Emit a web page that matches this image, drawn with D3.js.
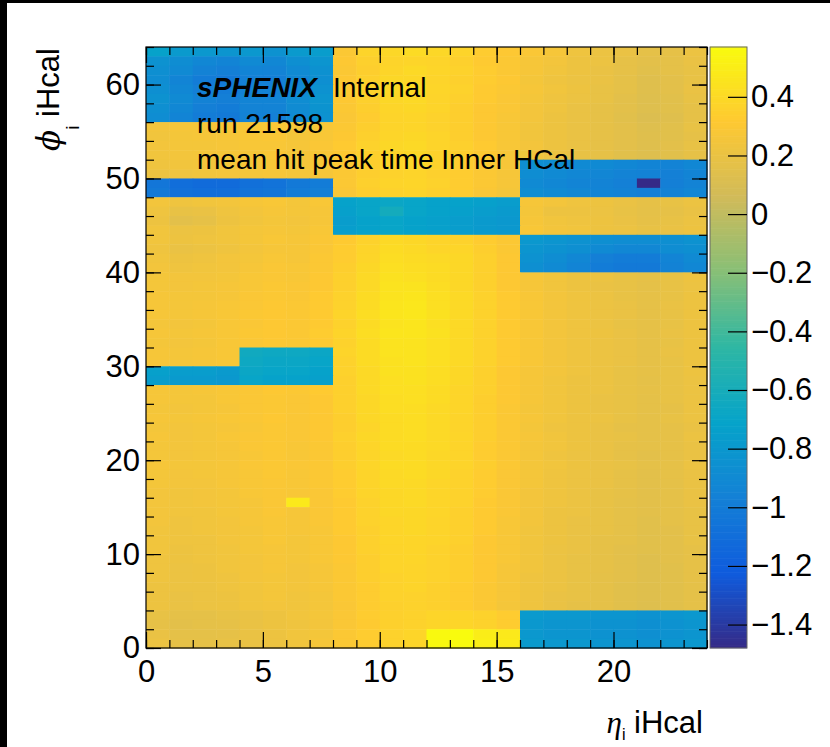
<!DOCTYPE html>
<html><head><meta charset="utf-8">
<script src="https://cdn.jsdelivr.net/npm/d3@7"></script>
<style>
html,body{margin:0;padding:0;background:#fff;}
svg{display:block;}
text{font-family:"Liberation Sans",Arial,Helvetica,sans-serif;}
</style>
</head><body>
<svg id="c" width="830" height="747"></svg>
<script>
// ---- data ----
const etaCount = 24;            // eta bins 0..23
const phiCount = 64;            // phi bins 0..63
const xTickMajor = [0, 5, 10, 15, 20];
const yTickMajor = [0, 10, 20, 30, 40, 50, 60];
const zTickValues = [0.4, 0.2, 0, -0.2, -0.4, -0.6, -0.8, -1, -1.2, -1.4];
const infoLines = ["run 21598", "mean hit peak time Inner HCal"];

// rows listed from phi = 63 (top) down to phi = 0 (bottom); 24 eta values each
const phiRowsTop = [
[-0.72,-0.78,-0.80,-0.82,-0.80,-0.84,-0.78,-0.76,0.30,0.37,0.39,0.41,0.39,0.37,0.33,0.31,0.29,0.27,0.23,0.21,0.20,0.17,0.18,0.21],
[-0.84,-0.88,-0.92,-0.94,-0.90,-0.92,-0.86,-0.82,0.31,0.35,0.37,0.38,0.37,0.35,0.32,0.30,0.27,0.25,0.22,0.21,0.18,0.16,0.17,0.20],
[-0.86,-0.90,-0.96,-0.98,-0.94,-0.95,-0.90,-0.85,0.30,0.34,0.38,0.40,0.38,0.36,0.33,0.30,0.27,0.24,0.22,0.20,0.18,0.15,0.17,0.19],
[-0.88,-0.94,-1.00,-1.02,-0.97,-0.98,-0.92,-0.86,0.31,0.35,0.39,0.39,0.37,0.35,0.33,0.31,0.26,0.23,0.21,0.20,0.17,0.14,0.16,0.19],
[-0.86,-0.92,-0.98,-1.00,-0.96,-0.96,-0.90,-0.84,0.32,0.36,0.40,0.41,0.38,0.36,0.32,0.30,0.27,0.24,0.22,0.19,0.17,0.14,0.16,0.20],
[-0.84,-0.90,-0.96,-0.98,-0.94,-0.94,-0.88,-0.82,0.31,0.35,0.39,0.40,0.37,0.35,0.32,0.29,0.26,0.23,0.21,0.19,0.16,0.13,0.15,0.19],
[-0.86,-0.92,-0.98,-1.00,-0.95,-0.95,-0.89,-0.83,0.30,0.34,0.38,0.39,0.37,0.34,0.31,0.29,0.25,0.23,0.20,0.18,0.16,0.13,0.15,0.18],
[-0.88,-0.94,-1.00,-1.02,-0.96,-0.97,-0.90,-0.84,0.29,0.33,0.37,0.38,0.36,0.34,0.31,0.28,0.25,0.22,0.20,0.18,0.15,0.12,0.14,0.18],
[0.25,0.27,0.27,0.28,0.28,0.29,0.27,0.28,0.30,0.34,0.37,0.38,0.36,0.34,0.31,0.28,0.24,0.22,0.20,0.18,0.16,0.13,0.15,0.19],
[0.24,0.26,0.27,0.27,0.28,0.29,0.26,0.28,0.31,0.35,0.38,0.39,0.37,0.34,0.31,0.28,0.24,0.22,0.20,0.18,0.16,0.14,0.15,0.18],
[0.25,0.26,0.26,0.27,0.28,0.28,0.27,0.29,0.32,0.36,0.39,0.40,0.37,0.35,0.32,0.28,0.25,0.22,0.20,0.18,0.16,0.14,0.16,0.19],
[0.24,0.25,0.26,0.27,0.27,0.29,0.27,0.28,0.31,0.35,0.38,0.39,0.36,0.34,0.31,0.27,0.24,0.21,0.19,0.18,0.15,0.13,0.15,0.18],
[0.23,0.24,0.25,0.26,0.27,0.28,0.26,0.28,0.30,0.34,0.37,0.38,0.36,0.33,0.30,0.27,-0.86,-0.88,-0.90,-0.90,-0.92,-0.94,-0.95,-0.92],
[0.22,0.23,0.24,0.25,0.26,0.27,0.26,0.27,0.30,0.34,0.36,0.37,0.35,0.33,0.30,0.27,-0.88,-0.90,-0.92,-0.93,-0.95,-0.96,-0.97,-0.94],
[-1.04,-1.10,-1.12,-1.12,-1.08,-1.06,-1.02,-1.00,0.30,0.35,0.37,0.38,0.36,0.33,0.30,0.27,-0.90,-0.92,-0.94,-0.95,-0.97,-1.48,-0.98,-0.95],
[-1.02,-1.08,-1.10,-1.10,-1.06,-1.05,-1.00,-0.98,0.29,0.34,0.36,0.37,0.35,0.33,0.29,0.26,-0.88,-0.90,-0.92,-0.94,-0.96,-0.98,-0.96,-0.93],
[0.25,0.23,0.24,0.25,0.27,0.28,0.26,0.28,-0.72,-0.70,-0.68,-0.70,-0.72,-0.72,-0.74,-0.76,0.27,0.25,0.23,0.22,0.20,0.18,0.19,0.21],
[0.23,0.19,0.20,0.23,0.25,0.27,0.26,0.27,-0.74,-0.70,-0.62,-0.70,-0.72,-0.74,-0.76,-0.78,0.26,0.22,0.22,0.21,0.19,0.17,0.18,0.20],
[0.22,0.16,0.18,0.22,0.24,0.26,0.25,0.27,-0.76,-0.72,-0.70,-0.72,-0.74,-0.76,-0.78,-0.80,0.27,0.24,0.23,0.22,0.20,0.18,0.19,0.21],
[0.24,0.21,0.22,0.24,0.26,0.27,0.26,0.28,-0.75,-0.72,-0.70,-0.72,-0.74,-0.76,-0.78,-0.80,0.28,0.25,0.24,0.22,0.21,0.19,0.20,0.22],
[0.24,0.22,0.23,0.24,0.26,0.28,0.27,0.29,0.32,0.36,0.40,0.39,0.37,0.36,0.33,0.30,-0.80,-0.82,-0.84,-0.86,-0.88,-0.88,-0.86,-0.84],
[0.23,0.20,0.21,0.23,0.25,0.27,0.27,0.29,0.33,0.37,0.41,0.40,0.38,0.38,0.34,0.30,-0.82,-0.84,-0.86,-0.90,-0.92,-0.92,-0.88,-0.86],
[0.24,0.22,0.23,0.25,0.26,0.28,0.27,0.30,0.33,0.38,0.42,0.41,0.40,0.39,0.35,0.31,-0.84,-0.88,-0.92,-0.98,-1.00,-1.00,-0.94,-0.90],
[0.25,0.23,0.24,0.25,0.27,0.29,0.28,0.30,0.34,0.39,0.43,0.42,0.41,0.39,0.35,0.31,-0.86,-0.90,-0.94,-1.00,-1.02,-1.02,-0.96,-0.92],
[0.26,0.25,0.25,0.26,0.28,0.29,0.28,0.31,0.35,0.40,0.44,0.43,0.41,0.39,0.35,0.31,0.27,0.24,0.22,0.21,0.19,0.18,0.19,0.22],
[0.26,0.25,0.26,0.27,0.28,0.30,0.29,0.31,0.35,0.40,0.45,0.45,0.42,0.39,0.35,0.31,0.27,0.24,0.22,0.20,0.19,0.17,0.19,0.21],
[0.27,0.26,0.26,0.27,0.29,0.30,0.29,0.32,0.36,0.41,0.45,0.46,0.43,0.40,0.36,0.32,0.28,0.25,0.23,0.21,0.19,0.18,0.19,0.22],
[0.27,0.26,0.27,0.28,0.29,0.31,0.30,0.32,0.36,0.41,0.46,0.47,0.43,0.40,0.36,0.32,0.28,0.25,0.23,0.21,0.20,0.18,0.20,0.22],
[0.27,0.26,0.27,0.28,0.30,0.31,0.30,0.32,0.37,0.42,0.46,0.47,0.44,0.40,0.36,0.32,0.28,0.25,0.23,0.21,0.20,0.18,0.19,0.22],
[0.26,0.25,0.26,0.28,0.29,0.31,0.30,0.32,0.36,0.41,0.45,0.46,0.43,0.40,0.36,0.32,0.28,0.25,0.23,0.21,0.19,0.18,0.19,0.22],
[0.27,0.26,0.27,0.28,0.30,0.31,0.30,0.33,0.37,0.42,0.46,0.46,0.44,0.40,0.36,0.32,0.28,0.25,0.23,0.22,0.20,0.18,0.20,0.22],
[0.26,0.25,0.26,0.28,0.29,0.31,0.30,0.32,0.36,0.41,0.45,0.45,0.43,0.40,0.36,0.32,0.28,0.25,0.23,0.21,0.20,0.18,0.19,0.22],
[0.27,0.26,0.27,0.28,-0.64,-0.66,-0.66,-0.68,0.37,0.41,0.45,0.45,0.43,0.40,0.36,0.32,0.28,0.25,0.23,0.21,0.20,0.18,0.20,0.22],
[0.27,0.26,0.27,0.28,-0.66,-0.68,-0.68,-0.70,0.36,0.41,0.44,0.45,0.43,0.40,0.36,0.32,0.28,0.25,0.23,0.21,0.20,0.18,0.19,0.22],
[-0.74,-0.76,-0.76,-0.78,-0.68,-0.70,-0.70,-0.72,0.36,0.40,0.44,0.44,0.42,0.39,0.35,0.31,0.27,0.25,0.23,0.21,0.19,0.18,0.19,0.22],
[-0.76,-0.78,-0.78,-0.80,-0.70,-0.72,-0.72,-0.74,0.35,0.40,0.43,0.44,0.42,0.39,0.35,0.31,0.27,0.24,0.22,0.21,0.19,0.17,0.19,0.21],
[0.27,0.26,0.27,0.28,0.29,0.31,0.30,0.32,0.35,0.40,0.43,0.43,0.41,0.38,0.35,0.31,0.27,0.24,0.22,0.21,0.19,0.18,0.19,0.21],
[0.27,0.26,0.26,0.28,0.29,0.30,0.29,0.31,0.35,0.39,0.42,0.43,0.41,0.38,0.34,0.31,0.27,0.24,0.22,0.20,0.19,0.17,0.19,0.21],
[0.26,0.25,0.26,0.27,0.29,0.30,0.29,0.31,0.35,0.39,0.42,0.42,0.40,0.38,0.34,0.30,0.26,0.24,0.22,0.20,0.19,0.17,0.18,0.21],
[0.27,0.26,0.27,0.28,0.29,0.31,0.29,0.31,0.34,0.39,0.41,0.42,0.40,0.37,0.34,0.30,0.27,0.24,0.22,0.21,0.19,0.17,0.19,0.21],
[0.26,0.25,0.26,0.27,0.28,0.30,0.29,0.31,0.34,0.38,0.41,0.42,0.40,0.37,0.34,0.30,0.26,0.23,0.22,0.20,0.18,0.17,0.18,0.20],
[0.27,0.25,0.26,0.28,0.29,0.30,0.29,0.31,0.35,0.39,0.41,0.42,0.40,0.38,0.34,0.30,0.27,0.24,0.22,0.20,0.19,0.17,0.18,0.21],
[0.26,0.25,0.26,0.27,0.29,0.30,0.28,0.30,0.34,0.38,0.41,0.41,0.40,0.37,0.33,0.30,0.26,0.24,0.22,0.20,0.18,0.17,0.18,0.20],
[0.26,0.25,0.26,0.27,0.28,0.30,0.28,0.30,0.34,0.38,0.40,0.41,0.39,0.37,0.33,0.30,0.26,0.23,0.21,0.20,0.18,0.16,0.18,0.20],
[0.27,0.26,0.26,0.27,0.29,0.30,0.29,0.30,0.34,0.38,0.41,0.41,0.39,0.37,0.34,0.30,0.26,0.24,0.22,0.20,0.19,0.17,0.18,0.21],
[0.26,0.25,0.26,0.27,0.28,0.30,0.28,0.30,0.33,0.37,0.40,0.41,0.39,0.36,0.33,0.29,0.26,0.23,0.21,0.20,0.18,0.16,0.18,0.20],
[0.26,0.25,0.25,0.27,0.28,0.29,0.28,0.30,0.33,0.37,0.40,0.40,0.38,0.36,0.33,0.29,0.26,0.23,0.21,0.20,0.18,0.16,0.17,0.20],
[0.25,0.24,0.25,0.26,0.28,0.29,0.28,0.29,0.33,0.37,0.39,0.40,0.38,0.36,0.33,0.29,0.25,0.23,0.21,0.19,0.18,0.16,0.17,0.20],
[0.25,0.24,0.25,0.26,0.27,0.29,0.48,0.29,0.32,0.36,0.39,0.40,0.38,0.36,0.32,0.29,0.25,0.23,0.21,0.19,0.17,0.16,0.17,0.20],
[0.25,0.24,0.24,0.26,0.27,0.29,0.27,0.29,0.32,0.36,0.39,0.39,0.38,0.35,0.32,0.29,0.25,0.22,0.21,0.19,0.17,0.16,0.17,0.19],
[0.25,0.23,0.24,0.25,0.27,0.28,0.27,0.29,0.32,0.36,0.38,0.39,0.37,0.35,0.32,0.28,0.25,0.22,0.20,0.19,0.17,0.15,0.17,0.19],
[0.24,0.23,0.24,0.25,0.26,0.28,0.27,0.28,0.32,0.35,0.38,0.39,0.37,0.35,0.32,0.28,0.24,0.22,0.20,0.19,0.17,0.15,0.16,0.19],
[0.24,0.23,0.23,0.25,0.26,0.28,0.26,0.28,0.31,0.35,0.38,0.38,0.37,0.35,0.31,0.28,0.24,0.22,0.20,0.18,0.17,0.15,0.16,0.19],
[0.24,0.22,0.23,0.24,0.26,0.27,0.26,0.28,0.31,0.35,0.37,0.38,0.36,0.34,0.31,0.28,0.24,0.21,0.20,0.18,0.16,0.15,0.16,0.18],
[0.23,0.22,0.23,0.24,0.25,0.27,0.26,0.28,0.31,0.34,0.37,0.38,0.36,0.34,0.31,0.28,0.24,0.21,0.19,0.18,0.16,0.14,0.16,0.18],
[0.23,0.21,0.22,0.24,0.25,0.27,0.25,0.27,0.30,0.34,0.37,0.37,0.36,0.34,0.31,0.27,0.24,0.21,0.19,0.18,0.16,0.14,0.15,0.18],
[0.23,0.21,0.22,0.23,0.25,0.26,0.25,0.27,0.30,0.34,0.36,0.37,0.36,0.34,0.31,0.27,0.23,0.21,0.19,0.17,0.16,0.14,0.15,0.18],
[0.22,0.21,0.21,0.23,0.24,0.26,0.25,0.27,0.30,0.33,0.36,0.37,0.35,0.33,0.30,0.27,0.23,0.21,0.19,0.17,0.15,0.14,0.15,0.17],
[0.22,0.20,0.21,0.22,0.24,0.26,0.24,0.26,0.30,0.33,0.36,0.36,0.35,0.33,0.30,0.27,0.23,0.20,0.19,0.17,0.15,0.14,0.15,0.17],
[0.22,0.20,0.21,0.22,0.24,0.25,0.24,0.26,0.29,0.33,0.35,0.36,0.35,0.33,0.30,0.26,0.23,0.20,0.18,0.17,0.15,0.13,0.15,0.17],
[0.19,0.17,0.17,0.19,0.20,0.22,0.24,0.26,0.29,0.33,0.35,0.36,0.38,0.38,0.36,0.33,-0.78,-0.80,-0.80,-0.82,-0.82,-0.84,-0.82,-0.80],
[0.18,0.16,0.17,0.18,0.20,0.22,0.23,0.25,0.29,0.32,0.35,0.36,0.38,0.38,0.36,0.33,-0.80,-0.82,-0.82,-0.84,-0.84,-0.86,-0.84,-0.82],
[0.20,0.17,0.17,0.18,0.20,0.22,0.24,0.26,0.30,0.33,0.36,0.38,0.56,0.57,0.50,0.48,-0.80,-0.82,-0.82,-0.84,-0.84,-0.86,-0.84,-0.82],
[0.21,0.18,0.18,0.19,0.20,0.22,0.24,0.27,0.30,0.33,0.36,0.38,0.56,0.57,0.51,0.49,-0.78,-0.80,-0.80,-0.82,-0.82,-0.84,-0.82,-0.80]
];

// ROOT kBird palette stops
const birdStops = [0.0, 0.125, 0.25, 0.375, 0.5, 0.625, 0.75, 0.875, 1.0];
const birdR = [0.2082, 0.0592, 0.0780, 0.0232, 0.1802, 0.5301, 0.8186, 0.9956, 0.9764];
const birdG = [0.1664, 0.3599, 0.5041, 0.6419, 0.7178, 0.7492, 0.7328, 0.7862, 0.9832];
const birdB = [0.5293, 0.8684, 0.8385, 0.7914, 0.6425, 0.4662, 0.3499, 0.1968, 0.0539];

// ---- build ----
const cells = [];
phiRowsTop.forEach((row, i) => {
  const phi = phiCount - 1 - i;
  row.forEach((v, eta) => cells.push({eta, phi, v}));
});
const [zMin, zMax] = d3.extent(cells, d => d.v);

const L = 146, R = 707, T = 47, B = 648;
const x = d3.scaleLinear().domain([0, etaCount]).range([L, R]);
const y = d3.scaleLinear().domain([0, phiCount]).range([B, T]);
const birdColors = birdStops.map((s, i) => d3.rgb(birdR[i]*255, birdG[i]*255, birdB[i]*255));
const color = d3.scaleLinear()
  .domain(birdStops.map(s => zMin + s * (zMax - zMin)))
  .range(birdColors)
  .interpolate(d3.interpolateRgb)
  .clamp(true);

const svg = d3.select("#c");
svg.append("rect").attr("width", 830).attr("height", 747).attr("fill", "#fff");

// cells
svg.append("g").selectAll("rect").data(cells).join("rect")
  .attr("x", d => x(d.eta))
  .attr("y", d => y(d.phi + 1))
  .attr("width", x(1) - x(0) + 0.5)
  .attr("height", y(0) - y(1) + 0.5)
  .attr("fill", d => color(d.v));

// frame
svg.append("rect").attr("x", L).attr("y", T).attr("width", R - L).attr("height", B - T)
  .attr("fill", "none").attr("stroke", "#000").attr("stroke-width", 1.2);

function styleAxis(g, fs) {
  g.select(".domain").remove();
  g.selectAll("line").attr("stroke", "#000").attr("stroke-width", 1.2);
  g.attr("font-family", "Liberation Sans, Arial, sans-serif").attr("font-size", fs);
  g.selectAll("text").attr("fill", "#000");
}
const fmtInt = d3.format("d");
const xMinor = d3.range(0, etaCount + 1, 1);
const yMinor = d3.range(0, phiCount + 1, 2);

// bottom axis
svg.append("g").attr("transform", `translate(0,${B})`)
  .call(d3.axisBottom(x).tickValues(xTickMajor).tickSize(-16).tickPadding(12).tickFormat(fmtInt))
  .call(g => styleAxis(g, 31));
svg.append("g").attr("transform", `translate(0,${B})`)
  .call(d3.axisBottom(x).tickValues(xMinor).tickSize(-8).tickFormat(""))
  .call(g => styleAxis(g, 31));
// top axis
svg.append("g").attr("transform", `translate(0,${T})`)
  .call(d3.axisTop(x).tickValues(xTickMajor).tickSize(-16).tickFormat(""))
  .call(g => styleAxis(g, 31));
svg.append("g").attr("transform", `translate(0,${T})`)
  .call(d3.axisTop(x).tickValues(xMinor).tickSize(-8).tickFormat(""))
  .call(g => styleAxis(g, 31));
// left axis
svg.append("g").attr("transform", `translate(${L},0)`)
  .call(d3.axisLeft(y).tickValues(yTickMajor).tickSize(-15).tickPadding(6).tickFormat(fmtInt))
  .call(g => styleAxis(g, 31));
svg.append("g").attr("transform", `translate(${L},0)`)
  .call(d3.axisLeft(y).tickValues(yMinor).tickSize(-8).tickFormat(""))
  .call(g => styleAxis(g, 31));
// right axis
svg.append("g").attr("transform", `translate(${R},0)`)
  .call(d3.axisRight(y).tickValues(yTickMajor).tickSize(-15).tickFormat(""))
  .call(g => styleAxis(g, 31));
svg.append("g").attr("transform", `translate(${R},0)`)
  .call(d3.axisRight(y).tickValues(yMinor).tickSize(-8).tickFormat(""))
  .call(g => styleAxis(g, 31));

// colour bar
const CL = 710, CR = 747;
const cbY = d3.scaleLinear().domain([zMin, zMax]).range([B, T]);
const nBands = 255;
const bandVals = d3.range(nBands).map(i => zMin + (i + 0.5) * (zMax - zMin) / nBands);
const bandH = (B - T) / nBands;
svg.append("g").selectAll("rect").data(bandVals).join("rect")
  .attr("x", CL).attr("width", CR - CL)
  .attr("y", d => cbY(d) - bandH / 2 - 0.3)
  .attr("height", bandH + 0.6)
  .attr("fill", d => color(d));
svg.append("rect").attr("x", CL).attr("y", T).attr("width", CR - CL).attr("height", B - T)
  .attr("fill", "none").attr("stroke", "#666").attr("stroke-width", 1);
svg.append("g").attr("transform", `translate(${CR},0)`)
  .call(d3.axisRight(cbY).tickValues(zTickValues).tickSize(-19).tickPadding(4).tickFormat(d3.format("~g")))
  .call(g => styleAxis(g, 31));

// axis titles
const yt = svg.append("text").attr("transform", `translate(59,48) rotate(-90)`)
  .attr("text-anchor", "end").attr("font-size", 31).attr("fill", "#000");
yt.append("tspan").attr("font-family", "DejaVu Serif, Liberation Serif, serif").attr("font-style", "italic").text("ϕ");
yt.append("tspan").attr("font-size", 19).attr("dy", 20).text("i");
yt.append("tspan").attr("dy", -20).text(" iHcal");

const xt = svg.append("text").attr("x", 703).attr("y", 733)
  .attr("text-anchor", "end").attr("font-size", 31).attr("fill", "#000");
xt.append("tspan").attr("font-family", "Liberation Serif, serif").attr("font-style", "italic").text("η");
xt.append("tspan").attr("font-size", 16).attr("dy", 7).text("i");
xt.append("tspan").attr("dy", -7).text(" iHcal");

// labels inside the plot
svg.append("text").attr("x", 197).attr("y", 97).attr("font-size", 28)
  .attr("font-weight", "bold").attr("font-style", "italic").text("sPHENIX");
svg.append("text").attr("x", 333).attr("y", 97).attr("font-size", 28).text("Internal");
svg.selectAll("text.info").data(infoLines).join("text").attr("class", "info")
  .attr("x", 197).attr("y", (d, i) => 133 + i * 35.5).attr("font-size", 28).text(d => d);

// black canvas edges
svg.append("rect").attr("x", 0).attr("y", 0).attr("width", 7).attr("height", 747).attr("fill", "#000");
svg.append("rect").attr("x", 0).attr("y", 0).attr("width", 830).attr("height", 3).attr("fill", "#000");
</script>
</body></html>
